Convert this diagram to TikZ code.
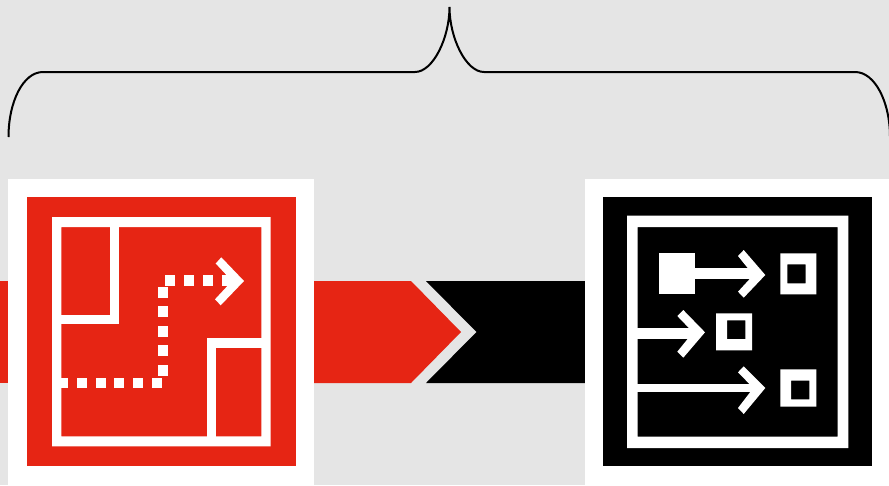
\documentclass[tikz,border=0pt]{standalone}
\definecolor{bgc}{HTML}{E5E5E5}
\definecolor{redc}{HTML}{E62514}
\tikzset{
  wht/.style={fill=white,draw=none},
  frame/.style={fill=white,draw=none,even odd rule},
  bracket/.style={draw=black,line width=2pt,line cap=butt}
}
\newcommand{\rbox}[4]{(#1,#2) rectangle (#3,#4)}
\begin{document}
\begin{tikzpicture}[x=1pt,y=-1pt]
\useasboundingbox (0,0) rectangle (889,485);
\fill[bgc] (0,0) rectangle (889,485);
% brace
\begin{scope}
\clip (0,0) rectangle (889,485);
\draw[bracket] (8.5,137) .. controls (8.5,102) and (23,72) .. (43,72) -- (415,72)
  .. controls (433,72) and (449.5,38) .. (449.5,7)
  .. controls (449.5,38) and (466,72) .. (484,72) -- (855,72)
  .. controls (875,72) and (890,102) .. (890,137);
\end{scope}
% band
\fill[redc] (0,281) rectangle (8,383);
\fill[redc] (314,281) -- (411,281) -- (461,332) -- (411,383) -- (314,383) -- cycle;
\fill[black] (426,281) -- (585,281) -- (585,383) -- (426,383) -- (476.5,332) -- cycle;
% left box
\fill[white] (8,179) rectangle (314,485);
\fill[redc] (27,197) rectangle (296,466);
\fill[frame] \rbox{52}{217}{270.7}{446.3} \rbox{61.3}{227}{261.3}{436.3};
\fill[wht] (110,222) rectangle (119.3,324.3);
\fill[wht] (57,314.7) rectangle (119.3,324.3);
\fill[wht] (206.7,338.3) rectangle (266,348.3);
\fill[wht] (206.7,338.3) rectangle (216,441);
% dots
\foreach \a/\b in {57/68,77/87,96/106,114/124,133/143,152/162}
  \fill[wht] (\a,378.3) rectangle (\b,388.3);
\foreach \a/\b in {287/298,306/317,326/337,345/356,365/376}
  \fill[wht] (158,\a) rectangle (168,\b);
\foreach \a/\b in {165/175,184/194,203/213,221.5/232}
  \fill[wht] (\a,275.3) rectangle (\b,285.8);
\fill[wht] (244,281) -- (221.3,257.3) -- (215.7,263.5) -- (232,281) -- (215,299.3) -- (220.7,305.3) -- cycle;
% right box
\fill[white] (585,179) rectangle (889,485);
\fill[black] (603,197) rectangle (872,466);
\fill[frame] \rbox{627}{215.7}{848.3}{448} \rbox{637.7}{227}{837.7}{436.7};
% row 1
\fill[wht] (659,253.3) rectangle (694.7,294.3);
\fill[wht] (694,268.3) rectangle (755,279);
\fill[wht] (765.3,275) -- (743.7,250) -- (738,256) -- (753.3,275) -- (738,291.7) -- (743.7,297.7) -- cycle;
\fill[frame] \rbox{780.3}{253.3}{816.3}{294.3} \rbox{787.3}{264.3}{805.7}{283.3};
% row 2
\fill[wht] (633,328.3) rectangle (695,339);
\fill[wht] (705,332.3) -- (683.3,310) -- (677.3,316) -- (693,332.3) -- (677.3,351.7) -- (683.3,357.7) -- cycle;
\fill[frame] \rbox{716}{313.3}{752}{350.3} \rbox{727}{320.3}{745.3}{339};
% row 3
\fill[wht] (633,384.3) rectangle (755,391.7);
\fill[wht] (765.3,388) -- (743.7,366.3) -- (738,372.3) -- (753.3,388) -- (738,408) -- (743.7,414) -- cycle;
\fill[frame] \rbox{780.3}{369.3}{816.3}{406.7} \rbox{791}{380.7}{809.3}{399.3};
\end{tikzpicture}
\end{document}
